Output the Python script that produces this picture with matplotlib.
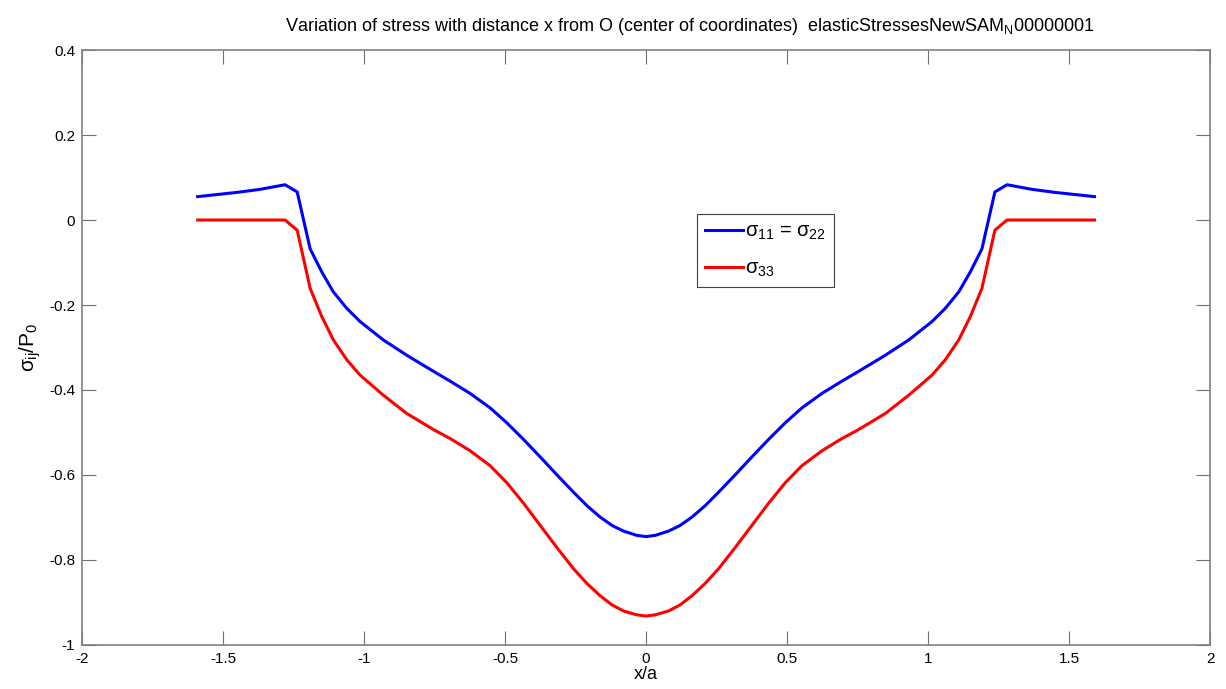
"""
    Elastic stress profile along x (normalised by contact radius a).
"""

import matplotlib
matplotlib.use('Agg')
import matplotlib.pyplot as plt
from matplotlib.ticker import FuncFormatter

plt.rcParams['font.family'] = ['Liberation Sans', 'DejaVu Sans']
plt.rcParams['mathtext.fontset'] = 'custom'
plt.rcParams['mathtext.rm'] = 'Liberation Sans'
plt.rcParams['mathtext.it'] = 'Liberation Sans'
plt.rcParams['mathtext.bf'] = 'Liberation Sans:bold'

# x/a sample positions
x_a = [-1.59, -1.45, -1.37, -1.28, -1.237, -1.191, -1.150, -1.109, -1.061,
       -1.014, -0.932, -0.849, -0.754, -0.690, -0.624, -0.553, -0.494,
       -0.435, -0.376, -0.317, -0.258, -0.210, -0.163, -0.120, -0.080,
       -0.033, 0.0,
       0.033, 0.080, 0.120, 0.163, 0.210, 0.258, 0.317, 0.376, 0.435, 0.494,
       0.553, 0.624, 0.690, 0.754, 0.849, 0.932, 1.014, 1.061, 1.109, 1.150,
       1.191, 1.237, 1.28, 1.37, 1.45, 1.59]

# sigma_11 = sigma_22, normalised by P0
s11 = [0.055, 0.065, 0.072, 0.083, 0.066, -0.068, -0.122, -0.169, -0.208,
       -0.239, -0.282, -0.318, -0.356, -0.381, -0.408, -0.442, -0.477,
       -0.516, -0.557, -0.599, -0.640, -0.672, -0.699, -0.719, -0.732,
       -0.742, -0.745,
       -0.742, -0.732, -0.719, -0.699, -0.672, -0.640, -0.599, -0.557, -0.516,
       -0.477, -0.442, -0.408, -0.381, -0.356, -0.318, -0.282, -0.239, -0.208,
       -0.169, -0.122, -0.068, 0.066, 0.083, 0.072, 0.065, 0.055]

# sigma_33, normalised by P0
s33 = [0.0, 0.0, 0.0, 0.0, -0.024, -0.161, -0.227, -0.282, -0.329,
       -0.365, -0.412, -0.455, -0.493, -0.516, -0.543, -0.578, -0.618,
       -0.666, -0.718, -0.770, -0.820, -0.855, -0.884, -0.906, -0.920,
       -0.929, -0.932,
       -0.929, -0.920, -0.906, -0.884, -0.855, -0.820, -0.770, -0.718, -0.666,
       -0.618, -0.578, -0.543, -0.516, -0.493, -0.455, -0.412, -0.365, -0.329,
       -0.282, -0.227, -0.161, -0.024, 0.0, 0.0, 0.0, 0.0]

x_ticks = [-2, -1.5, -1, -0.5, 0, 0.5, 1, 1.5, 2]
y_ticks = [-1, -0.8, -0.6, -0.4, -0.2, 0, 0.2, 0.4]


def fmt_tick(v, _pos):
    """Plain tick text: no trailing zeros."""
    return f'{v:g}'


fig = plt.figure(figsize=(12.26, 6.89), dpi=100)
ax = fig.add_axes([0.0669, 0.0639, 0.9201, 0.8635])

ax.plot(x_a, s11, color='#0000ff', lw=2.2, label=r'$\sigma_{11}$ = $\sigma_{22}$')
ax.plot(x_a, s33, color='#ff0000', lw=2.2, label=r'$\sigma_{33}$')

ax.set_xlim(-2, 2)
ax.set_ylim(-1, 0.4)
ax.set_xticks(x_ticks)
ax.set_yticks(y_ticks)
ax.xaxis.set_major_formatter(FuncFormatter(fmt_tick))
ax.yaxis.set_major_formatter(FuncFormatter(fmt_tick))

ax.tick_params(direction='in', length=10, width=0.8, color='#707070',
               top=True, right=True, labelsize=11, pad=5)
for sp in ax.spines.values():
    sp.set_color('#808080')
    sp.set_linewidth(1.2)

ax.set_xlabel('x/a', fontsize=13, labelpad=0)
ax.set_ylabel(r'$\sigma_{ij}/P_0$', fontsize=15, labelpad=4)
ax.set_title('Variation of stress with distance x from O (center of coordinates)  '
             r'elasticStressesNewSAM$_\mathrm{N}$00000001', fontsize=13, pad=14,
             x=0.539)

leg = ax.legend(loc='upper left', bbox_to_anchor=(0.545, 0.725), fontsize=14.5,
                handlelength=1.9, handletextpad=0.1, borderpad=0.4,
                labelspacing=0.85, fancybox=False, framealpha=1,
                borderaxespad=0)
leg.get_frame().set_edgecolor('#404040')
leg.get_frame().set_linewidth(0.8)

fig.savefig('out.png', dpi=100)
plt.close(fig)
